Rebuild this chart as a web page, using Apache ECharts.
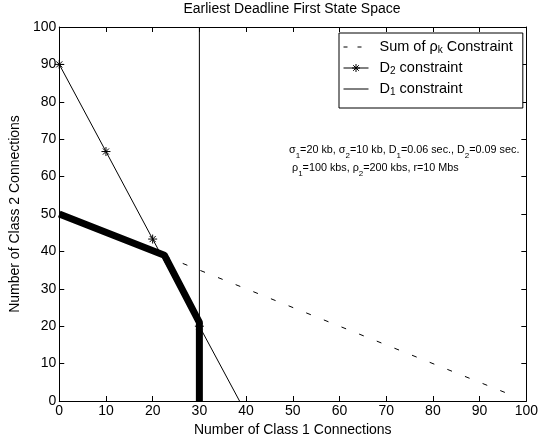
<!DOCTYPE html>
<html>
<head>
<meta charset="utf-8">
<script src="https://cdn.jsdelivr.net/npm/echarts@6/dist/echarts.min.js"></script>
<style>html,body{margin:0;padding:0;background:#fff}#c{width:541px;height:444px}</style>
</head>
<body>
<div id="c"></div>
<script>
// ---- data ----
const xTicks = [0,10,20,30,40,50,60,70,80,90,100];
const yTicks = [0,10,20,30,40,50,60,70,80,90,100];
const sumX = [0, 97];          // Sum of rho_k constraint (dashed)
const sumY = [50, 1.5];
const d2X = [0, 10, 20, 30, 38.6]; // D2 constraint
const d2Y = [90, 66.7, 43.3, 20, 0];
const d2Marked = [true, true, true, true, false];
const d1X = [30, 30];          // D1 constraint
const d1Y = [0, 100];
const regionX = [0, 22.5, 30, 30]; // EDF state space boundary (thick)
const regionY = [50, 39, 21, 0];

const FONT = 'Liberation Sans, Arial, sans-serif';
const pairs = (xs, ys) => xs.map((x, i) => [x, ys[i]]);
const star = 'path://M0,5L10,5M5,0L5,10M1.6,1.6L8.4,8.4M8.4,1.6L1.6,8.4';

// legend icons (box 31x14, visible part 0..25)
const iconDashed = 'path://M0,0M31,14M0,7.5L4,7.5M14,7.5L18,7.5';
const iconStar = 'path://M0,0M31,14M0,7.5L25,7.5M8.5,7.5L16.5,7.5M12.5,3.5L12.5,11.5M9.7,4.7L15.3,10.3M15.3,4.7L9.7,10.3';
const iconSolid = 'path://M0,0M31,14M0,7.5L25,7.5';
const iconStyle = {color: '#000', borderColor: '#000', borderWidth: 1};

const chart = echarts.init(document.getElementById('c'), null, {renderer: 'canvas'});

const axisCommon = {
  min: 0, max: 100, interval: 10,
  axisLine: {show: true, onZero: false, lineStyle: {color: '#000', width: 1}},
  axisTick: {show: true, inside: true, length: 5, lineStyle: {color: '#000', width: 1}},
  splitLine: {show: false}
};

const legendNames = {
  'Sum of ρk Constraint': '{n|Sum of ρ}{s|k}{n| Constraint}',
  'D2 constraint': '{n|D}{s|2}{n| constraint}',
  'D1 constraint': '{n|D}{s|1}{n| constraint}'
};

chart.setOption({
  animation: false,
  backgroundColor: '#fff',
  title: {
    text: 'Earliest Deadline First State Space',
    left: 292, top: 2, padding: 0, textAlign: 'center',
    textStyle: {fontFamily: FONT, fontSize: 14, fontWeight: 'normal', color: '#000'}
  },
  grid: {left: 55, right: 12, top: 27, bottom: 43},
  xAxis: [
    Object.assign({}, axisCommon, {
      type: 'value', position: 'bottom',
      name: 'Number of Class 1 Connections', nameLocation: 'middle', nameGap: 22,
      nameTextStyle: {fontFamily: FONT, fontSize: 14, color: '#000'},
      axisLabel: {fontFamily: FONT, fontSize: 14, color: '#000', margin: 3,
        formatter: v => xTicks.includes(v) ? String(v) : ''}
    }),
    Object.assign({}, axisCommon, {type: 'value', position: 'top', axisLabel: {show: false}})
  ],
  yAxis: [
    Object.assign({}, axisCommon, {
      type: 'value', position: 'left',
      name: 'Number of Class 2 Connections', nameLocation: 'middle', nameGap: 33,
      nameTextStyle: {fontFamily: FONT, fontSize: 14, color: '#000'},
      axisLabel: {fontFamily: FONT, fontSize: 14, color: '#000', margin: 3,
        formatter: v => yTicks.includes(v) ? String(v) : ''}
    }),
    Object.assign({}, axisCommon, {type: 'value', position: 'right', axisLabel: {show: false}})
  ],
  legend: {
    orient: 'vertical', left: 339, top: 33,
    padding: [6, 10, 11, 4], itemGap: 5, itemWidth: 31, itemHeight: 14,
    backgroundColor: '#fff', borderColor: '#000', borderWidth: 1, borderRadius: 0,
    data: [
      {name: 'Sum of ρk Constraint', icon: iconDashed, itemStyle: iconStyle},
      {name: 'D2 constraint', icon: iconStar, itemStyle: iconStyle},
      {name: 'D1 constraint', icon: iconSolid, itemStyle: iconStyle}
    ],
    formatter: name => legendNames[name],
    textStyle: {
      fontFamily: FONT, fontSize: 14.5, color: '#000',
      rich: {
        n: {fontFamily: FONT, fontSize: 14.5, color: '#000', lineHeight: 17},
        s: {fontFamily: FONT, fontSize: 10, color: '#000', lineHeight: 10, verticalAlign: 'bottom'}
      }
    }
  },
  series: [
    {
      name: 'Sum of ρk Constraint', type: 'line', data: pairs(sumX, sumY),
      symbol: 'none', lineStyle: {color: '#000', width: 1, type: [5, 14]},
      itemStyle: {color: '#000'}, z: 2
    },
    {
      name: 'D2 constraint', type: 'line',
      data: pairs(d2X, d2Y).map((p, i) => d2Marked[i] ? {value: p} : {value: p, symbol: 'none'}),
      symbol: star, symbolSize: 9, showAllSymbol: true,
      lineStyle: {color: '#000', width: 1},
      itemStyle: {color: 'rgba(0,0,0,0)', borderColor: '#000', borderWidth: 1}, z: 3
    },
    {
      name: 'D1 constraint', type: 'line', data: pairs(d1X, d1Y),
      symbol: 'none', lineStyle: {color: '#000', width: 1},
      itemStyle: {color: '#000'}, z: 2
    },
    {
      name: 'region', type: 'line', data: pairs(regionX, regionY),
      symbol: 'none', lineStyle: {color: '#000', width: 7, join: 'round', cap: 'butt'},
      itemStyle: {color: '#000'}, z: 4
    }
  ],
  graphic: [
    {
      type: 'text', left: 289, top: 145, z: 10,
      style: {
        text: '{n|σ}{s|1}{n|=20 kb, σ}{s|2}{n|=10 kb, D}{s|1}{n|=0.06 sec., D}{s|2}{n|=0.09 sec.}\n' +
              '{n| ρ}{s|1}{n|=100 kbs, ρ}{s|2}{n|=200 kbs, r=10 Mbs}',
        fill: '#000',
        rich: {
          n: {fontFamily: FONT, fontSize: 10.8, fill: '#000', lineHeight: 18},
          s: {fontFamily: FONT, fontSize: 8, fill: '#000', lineHeight: 8, verticalAlign: 'bottom'}
        }
      }
    }
  ]
});
</script>
</body>
</html>
